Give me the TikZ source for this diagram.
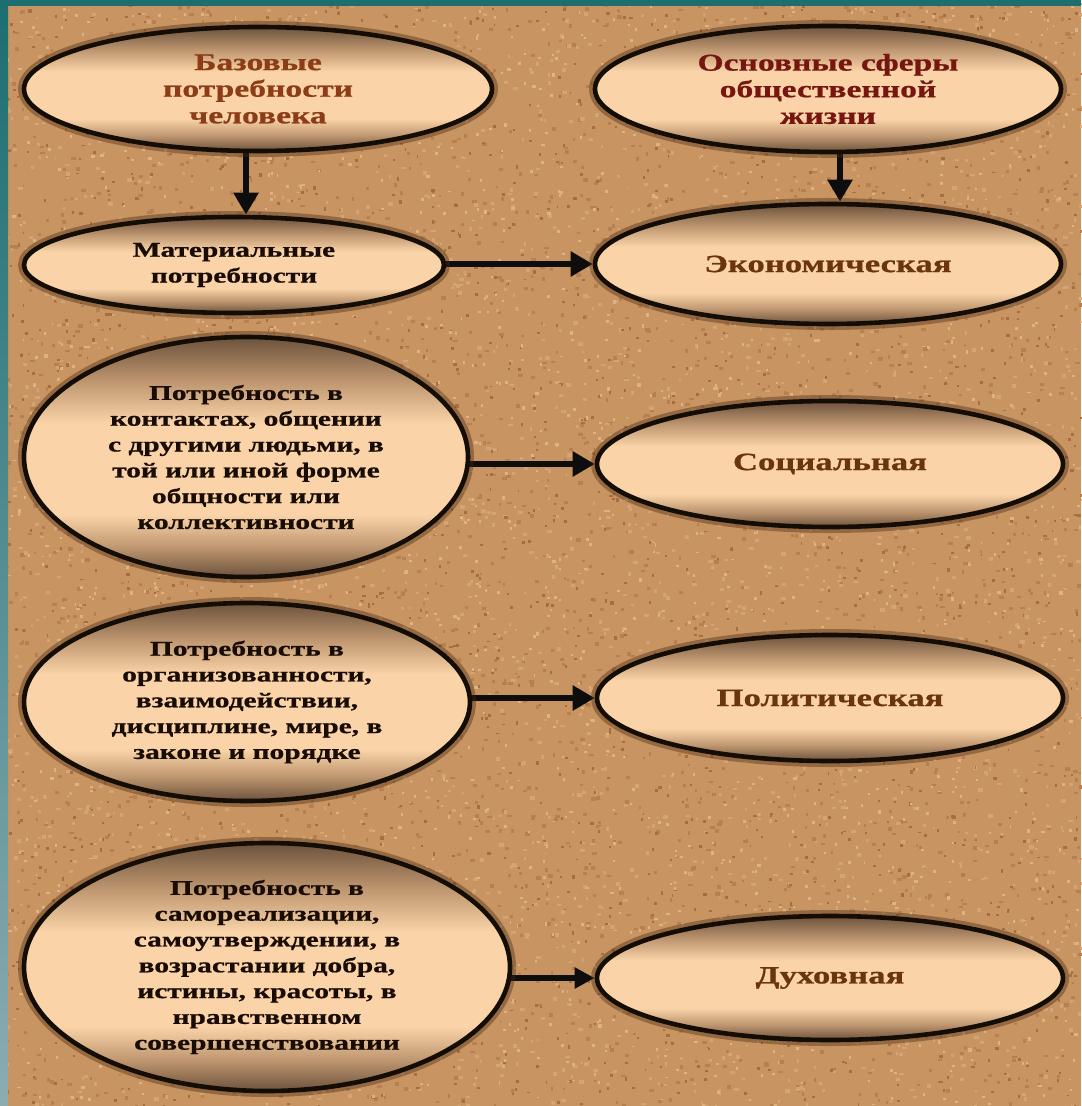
\documentclass[tikz,border=0pt]{standalone}
\usepackage{fontspec}
\setmainfont{Liberation Serif}[FakeStretch=1.4,FakeBold=0.8]
\usetikzlibrary{shapes.geometric,arrows.meta}
\definecolor{bgbase}{RGB}{200,148,98}
\definecolor{spkA}{RGB}{168,110,64}
\definecolor{spkB}{RGB}{184,128,80}
\definecolor{spkC}{RGB}{222,178,130}
\definecolor{spkD}{RGB}{212,164,116}
\definecolor{tealA}{RGB}{28,110,112}
\definecolor{tealB}{RGB}{140,172,176}
\definecolor{eDark}{RGB}{108,82,60}
\definecolor{eMid}{RGB}{188,148,110}
\definecolor{eLight}{RGB}{250,212,168}
\definecolor{txtdark}{RGB}{25,12,5}
\definecolor{titleBrown}{RGB}{140,60,22}
\definecolor{titleRed}{RGB}{118,22,16}
\definecolor{labelBrown}{RGB}{105,52,14}
\definecolor{halo}{RGB}{70,42,20}
\pgfdeclareverticalshading{ellsh}{100bp}{color(0bp)=(eDark); color(25bp)=(eDark); color(31bp)=(eMid); color(38bp)=(eLight); color(57bp)=(eLight); color(66bp)=(eMid); color(75bp)=(eDark); color(100bp)=(eDark)}
\pgfdeclarelayer{mid}
\pgfsetlayers{mid,main}
\newcommand\needfont{\fontsize{10.5}{12.9}\selectfont\bfseries}
\newcommand\titlefont{\fontsize{12}{13.3}\selectfont\bfseries}
\newcommand\labelfont{\fontsize{12.4}{14}\selectfont\bfseries}
\begin{document}
\begin{tikzpicture}[x=0.5pt,y=-0.5pt,
  ell/.style={ellipse, draw=black!90!brown, line width=2.3pt, shade, shading=ellsh,
    inner sep=-8pt, align=center,
    preaction={draw=halo, draw opacity=0.4, line width=6pt}},
  need/.style={ell, font=\needfont, text=txtdark},
  ttl/.style={ell, font=\titlefont},
  sphere/.style={ell, font=\labelfont, text=labelBrown},
  arr/.style={line width=3.3pt, draw=black!95, -{Triangle[length=11pt,width=12pt]}},
  arrthin/.style={line width=2.6pt, draw=black!95, -{Triangle[length=10pt,width=10pt]}}]
\useasboundingbox (0,0) rectangle (1081,1106);
\begin{pgfonlayer}{mid}
\fill[bgbase] (0,0) rectangle (1081,1106);
\pgfmathsetseed{4242}
\foreach \i in {1,...,2600}{\fill[spkB] (1081*rnd,1106*rnd) rectangle ++(2+3*rnd,2+2*rnd);}
\foreach \i in {1,...,2400}{\fill[spkD] (1081*rnd,1106*rnd) rectangle ++(2+3*rnd,2+2*rnd);}
\foreach \i in {1,...,2000}{\fill[spkA] (1081*rnd,1106*rnd) rectangle ++(1.5+2*rnd,1.5+2*rnd);}
\foreach \i in {1,...,2000}{\fill[spkC] (1081*rnd,1106*rnd) rectangle ++(1.5+2*rnd,1.5+2*rnd);}
\shade[top color=tealA, bottom color=tealB] (0,0) rectangle (8,1106);
\fill[tealA] (0,0) rectangle (1081,6);
\end{pgfonlayer}
% left column
\node[ttl, text=titleBrown, minimum width=234pt, minimum height=62pt] (base) at (258,89) {Базовые\\потребности\\человека};
\node[need, minimum width=210pt, minimum height=48pt] (mat) at (234,265) {Материальные\\потребности};
\node[need, minimum width=222pt, minimum height=120pt] (con) at (246,457) {Потребность в\\контактах, общении\\с другими людьми, в\\той или иной форме\\общности или\\коллективности};
\node[need, minimum width=223pt, minimum height=99pt] (org) at (247,702) {Потребность в\\организованности,\\взаимодействии,\\дисциплине, мире, в\\законе и порядке};
\node[need, minimum width=243pt, minimum height=124pt] (self) at (267,967) {Потребность в\\самореализации,\\самоутверждении, в\\возрастании добра,\\истины, красоты, в\\нравственном\\совершенствовании};
% right column
\node[ttl, text=titleRed, minimum width=233pt, minimum height=63pt] (sph) at (828,89) {Основные сферы\\общественной\\жизни};
\node[sphere, minimum width=233pt, minimum height=60pt] (eco) at (828,264) {Экономическая};
\node[sphere, minimum width=233pt, minimum height=63pt] (soc) at (830,464) {Социальная};
\node[sphere, minimum width=233pt, minimum height=63pt] (pol) at (830,698) {Политическая};
\node[sphere, minimum width=233pt, minimum height=62pt] (duh) at (830,978) {Духовная};
% connectors
\begin{pgfonlayer}{mid}
\draw[arr] ([xshift=-6pt]base.south) -- ([xshift=-6pt]base.south |- mat.north);
\draw[arr] ([xshift=6pt]sph.south) -- ([xshift=6pt]sph.south |- eco.north);
\draw[arr] (mat.center |- eco.west) -- (eco.west);
\draw[arr] (con.center |- soc.west) -- (soc.west);
\draw[arr] (org.center |- pol.west) -- (pol.west);
\draw[arrthin] (self.center |- duh.west) -- (duh.west);
\end{pgfonlayer}
\end{tikzpicture}
\end{document}
